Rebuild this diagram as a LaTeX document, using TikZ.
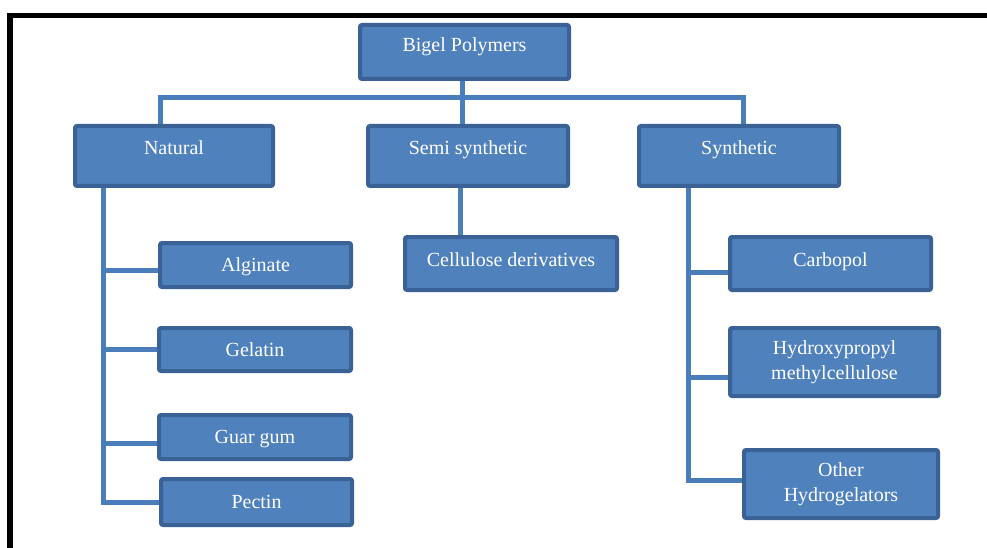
\documentclass[tikz,border=0pt]{standalone}
\usepackage{fontspec}
\setmainfont{Liberation Serif}
\usetikzlibrary{backgrounds}
\definecolor{boxfill}{HTML}{4F81BD}
\definecolor{boxline}{HTML}{3A6296}
\definecolor{connc}{HTML}{4A7EBB}
\begin{document}
\begin{tikzpicture}[x=1pt,y=-1pt,
  box/.style={draw=boxline, fill=boxfill, line width=4pt, rounded corners=2pt,
    text=white, font=\fontsize{20}{25}\selectfont, inner sep=0pt},
  sl/.style={text height=13pt, text depth=#1},
  conn/.style={draw=connc, line width=5pt}]
\useasboundingbox (0,0) rectangle (987,548);
\draw[line width=5.5pt] (10,548) -- (10,15.5) -- (987,15.5);

\node[box, sl=14pt, minimum width=209pt, minimum height=54pt] (bigel) at (464.5,52) {Bigel Polymers};
\node[box, sl=15pt, minimum width=198pt, minimum height=60pt] (nat) at (174,156) {Natural};
\node[box, sl=15pt, minimum width=200pt, minimum height=60pt] (semi) at (468,156) {Semi synthetic};
\node[box, sl=15pt, minimum width=200pt, minimum height=60pt] (syn) at (739,156) {Synthetic};

\node[box, sl=0pt, minimum width=191pt, minimum height=44pt] (alg) at (255.5,265) {Alginate};
\node[box, sl=0pt, minimum width=192pt, minimum height=43pt] (gel) at (255,349.5) {Gelatin};
\node[box, sl=0pt, minimum width=192pt, minimum height=44pt] (guar) at (255,437) {Guar gum};
\node[box, sl=0pt, minimum width=191pt, minimum height=46pt] (pec) at (256.5,502) {Pectin};

\node[box, sl=8pt, minimum width=212pt, minimum height=53pt] (cell) at (511,263.5) {Cellulose derivatives};

\node[box, sl=8pt, minimum width=201pt, minimum height=53pt] (carb) at (830.5,263.5) {Carbopol};
\node[box, align=center, minimum width=209pt, minimum height=68pt] (hpmc) at (834.5,362) {Hydroxypropyl\\methylcellulose};
\node[box, align=center, minimum width=194pt, minimum height=68pt] (oth) at (841,484) {Other\\Hydrogelators};

\begin{scope}[on background layer]
\coordinate (bl) at (160,98);
\coordinate (br) at (743,98);
\coordinate (bm) at (462,98);
\draw[conn] (nat.north -| bl) -- (bl) -- (br) -- (syn.north -| br);
\draw[conn] (bigel.south -| bm) -- (semi.north -| bm);

\coordinate (cm) at (460,0);
\draw[conn] (semi.south -| cm) -- (cell.north -| cm);

\coordinate (tn) at (103,0);
\path ([yshift=-5pt]alg.west) coordinate (a1)
      (gel.west) coordinate (a2)
      ([yshift=-6pt]guar.west) coordinate (a3)
      (pec.west) coordinate (a4);
\draw[conn] (nat.south -| tn) -- (tn |- a4) -- (a4);
\draw[conn] (tn |- a1) -- (a1);
\draw[conn] (tn |- a2) -- (a2);
\draw[conn] (tn |- a3) -- (a3);

\coordinate (ts) at (688,0);
\path ([yshift=-8.5pt]carb.west) coordinate (s1)
      ([yshift=-15pt]hpmc.west) coordinate (s2)
      ([yshift=4pt]oth.west) coordinate (s3);
\draw[conn] (syn.south -| ts) -- (ts |- s3) -- (s3);
\draw[conn] (ts |- s1) -- (s1);
\draw[conn] (ts |- s2) -- (s2);
\end{scope}
\end{tikzpicture}
\end{document}
